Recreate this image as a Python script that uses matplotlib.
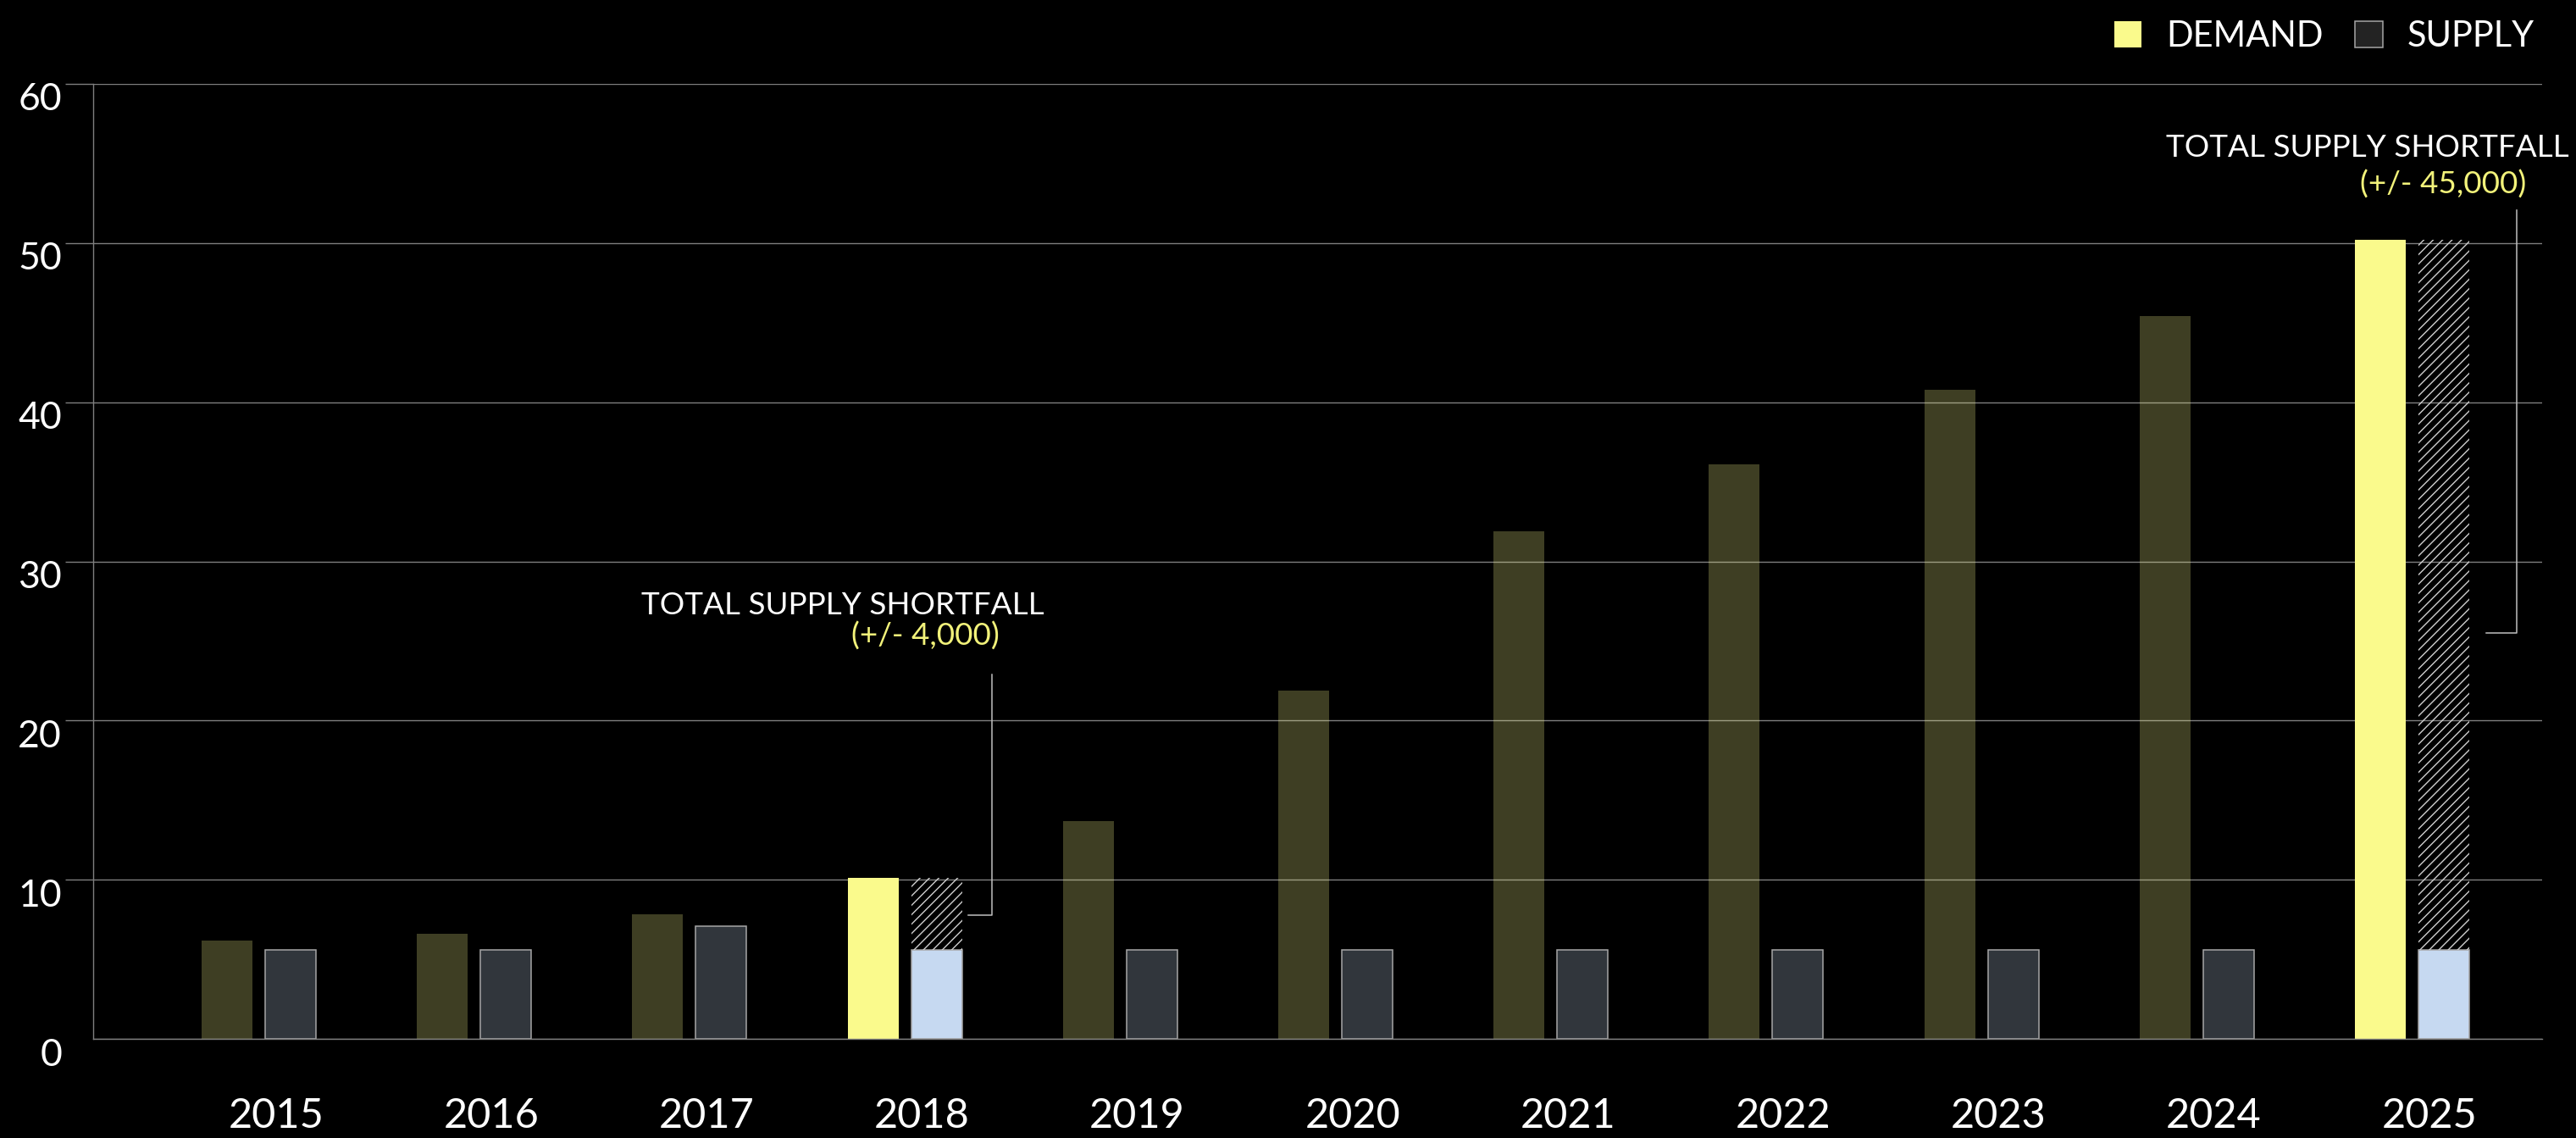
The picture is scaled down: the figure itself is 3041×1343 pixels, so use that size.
import numpy as np
import matplotlib
matplotlib.use('Agg')
from matplotlib import pyplot as plt
from matplotlib.patches import Patch
from matplotlib.colors import to_rgba
from matplotlib.transforms import ScaledTranslation

years = ['2015', '2016', '2017', '2018', '2019', '2020', '2021', '2022', '2023', '2024', '2025']
demand = [6.2, 6.6, 7.8, 10.1, 13.7, 21.9, 31.9, 36.1, 40.8, 45.4, 50.2]
supply = [5.6, 5.6, 7.1, 5.6, 5.6, 5.6, 5.6, 5.6, 5.6, 5.6, 5.6]
highlight = ['2018', '2025']
yticks = [0, 10, 20, 30, 40, 50, 60]
legend_labels = ['DEMAND', 'SUPPLY']
note_title = 'TOTAL SUPPLY SHORTFALL'
note_values = ['(+/- 4,000)', '(+/- 45,000)']

YELLOW = '#fafa8c'
BLUE = '#c6d9f1'
GRID = '#7f7f7f'
EDGE = '#a6a6a6'
NOTE_YELLOW = '#f2f27a'

plt.rcParams['font.family'] = ['Lato', 'DejaVu Sans']
plt.rcParams['hatch.linewidth'] = 0.5

fig = plt.figure(figsize=(3041 / 200, 1343 / 200), dpi=200, facecolor='black')
ax = fig.add_axes([110 / 3041, 117 / 1343, 2891 / 3041, 1127 / 1343])
ax.set_facecolor('black')

x = np.arange(len(years))
demand = np.array(demand)
supply = np.array(supply)
hi = np.array([y in highlight for y in years])
w = 0.236
off = 0.1475

dem_colors = [YELLOW if h else to_rgba(YELLOW, 0.25) for h in hi]
sup_colors = [BLUE if h else to_rgba(BLUE, 0.25) for h in hi]

ax.bar(x - off, demand, w, color=dem_colors, linewidth=0, zorder=2)
ax.bar(x + off, supply, w, color=sup_colors, edgecolor=EDGE, linewidth=0.55, zorder=2)
# shortfall, hatched between supply and demand
ax.bar(x[hi] + off, demand[hi] - supply[hi], w, bottom=supply[hi], facecolor='none',
       edgecolor='#cfcfcf', linewidth=0, hatch='//////', zorder=2)

ax.set_xlim(-0.769, 10.604)
ax.set_ylim(0, 60)
ax.set_yticks(yticks)
ax.yaxis.grid(True, color=GRID, linewidth=0.5)
ax.set_axisbelow(True)

for side in ['top', 'right']:
    ax.spines[side].set_visible(False)
for side in ['left', 'bottom']:
    ax.spines[side].set_color(GRID)
    ax.spines[side].set_linewidth(0.5)

ax.tick_params(axis='y', length=11.9, width=0.5, color=GRID, pad=1.4,
               labelsize=16, labelcolor='white')
ax.yaxis.get_major_ticks()[0].tick1line.set_visible(False)
shift = ScaledTranslation(0, -15 / 200, fig.dpi_scale_trans)
for lab in ax.get_yticklabels():
    lab.set_transform(lab.get_transform() + shift)

ax.set_xticks(x + 0.08, years)
ax.tick_params(axis='x', length=0, pad=25, labelsize=17.5, labelcolor='white')

# callouts
ax.plot([3.295, 3.405, 3.405], [7.77, 7.77, 22.9], color='#bfbfbf', lw=0.55, clip_on=False)
ax.text(3.649, 26.65, note_title, ha='right', va='baseline', color='white', fontsize=13.3)
ax.text(3.441, 24.7, note_values[0], ha='right', va='baseline', color=NOTE_YELLOW, fontsize=13.3)

ax.plot([10.344, 10.486, 10.486], [25.5, 25.5, 52.05], color='#bfbfbf', lw=0.55, clip_on=False)
ax.text(10.73, 55.4, note_title, ha='right', va='baseline', color='white', fontsize=13.3)
ax.text(10.529, 53.1, note_values[1], ha='right', va='baseline', color=NOTE_YELLOW, fontsize=13.3)

handles = [Patch(facecolor=YELLOW, edgecolor='none'),
           Patch(facecolor='#232323', edgecolor=EDGE, linewidth=0.55)]
ax.legend(handles, legend_labels, ncol=2, frameon=False, fontsize=15, labelcolor='white',
          handlelength=0.78, handleheight=0.78, handletextpad=0.7, columnspacing=0.9,
          loc='upper right', bbox_to_anchor=(2992 / 3041, 1 - 24 / 1343),
          bbox_transform=fig.transFigure, borderaxespad=0, borderpad=0)

fig.savefig('out.png', dpi=200, facecolor='black')
